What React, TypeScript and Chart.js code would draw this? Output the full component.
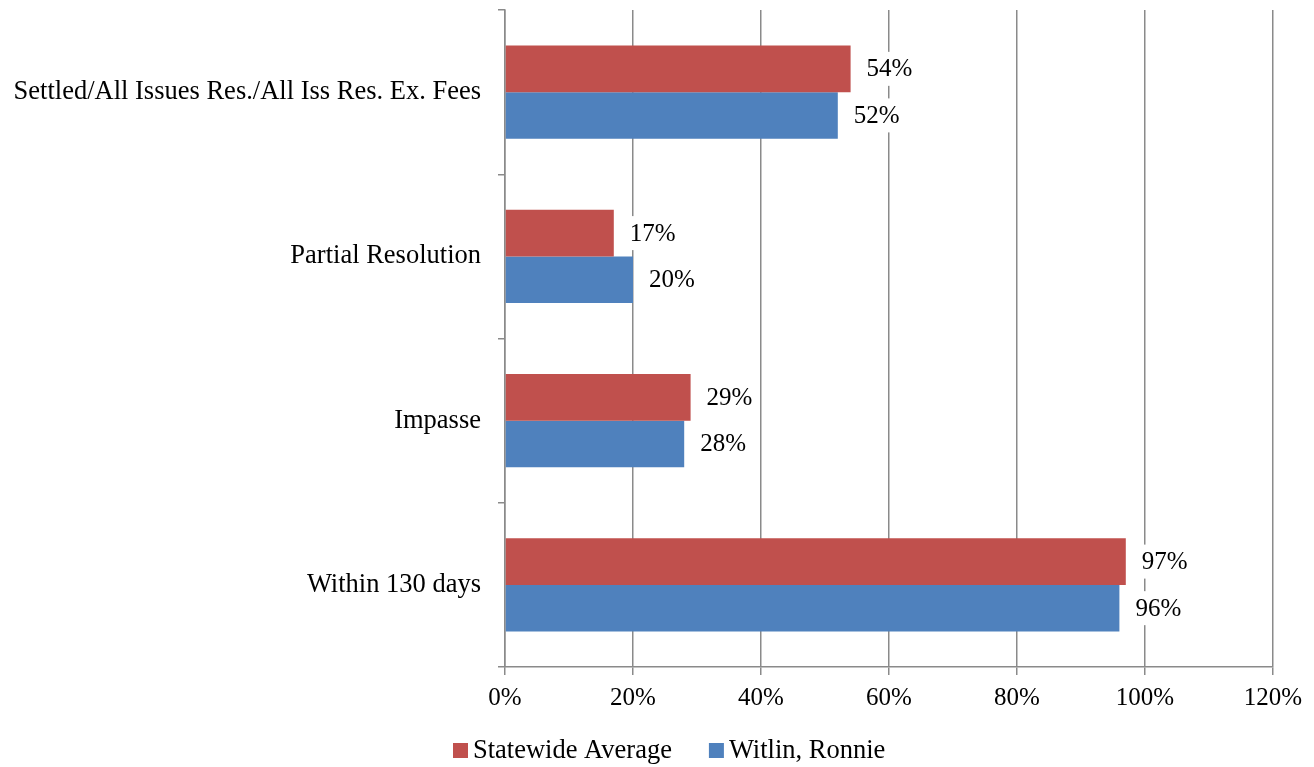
import React, { useEffect, useRef } from "react";
import { Chart, registerables } from "chart.js";

Chart.register(...registerables);

const categories = [
  "Settled/All Issues Res./All Iss Res. Ex. Fees",
  "Partial Resolution",
  "Impasse",
  "Within 130 days",
];
const statewideAverage = [54, 17, 29, 97];
const witlinRonnie = [52, 20, 28, 96];
const seriesNames = ["Statewide Average", "Witlin, Ronnie"];
const seriesColors = ["#C0504D", "#4F81BD"];
const xTickMax = 120;

const FONT = "'Liberation Serif', 'Times New Roman', serif";
const TEXT_SIZE = 26.5;
const NUM_SIZE = 25;

// Draws "NN%" to the right of each bar on a white box that hides the gridlines.
const valueLabels = {
  id: "valueLabels",
  afterDatasetsDraw(chart: any) {
    const ctx = chart.ctx;
    ctx.save();
    ctx.font = `${NUM_SIZE}px ${FONT}`;
    ctx.textBaseline = "middle";
    ctx.textAlign = "left";
    chart.data.datasets.forEach((ds: any, di: number) => {
      const meta = chart.getDatasetMeta(di);
      meta.data.forEach((bar: any, i: number) => {
        const text = `${ds.data[i]}%`;
        const w = ctx.measureText(text).width;
        const x = bar.x + 16;
        const y = bar.y;
        ctx.fillStyle = "#ffffff";
        ctx.fillRect(x - 4, y - 17, w + 8, 34);
        ctx.fillStyle = "#000000";
        ctx.fillText(text, x, y + 1);
      });
    });
    ctx.restore();
  },
};

// Legend row under the axis: square swatch, then the series name.
const bottomLegend = {
  id: "bottomLegend",
  afterDraw(chart: any) {
    const ctx = chart.ctx;
    ctx.save();
    ctx.font = `${TEXT_SIZE}px ${FONT}`;
    ctx.textBaseline = "middle";
    ctx.textAlign = "left";
    const y = 751;
    let x = 453;
    seriesNames.forEach((name, i) => {
      ctx.fillStyle = seriesColors[i];
      ctx.fillRect(x, y - 8, 15, 15);
      x += 20;
      ctx.fillStyle = "#000";
      ctx.fillText(name, x, y);
      x += ctx.measureText(name).width + 37;
    });
    ctx.restore();
  },
};

export default function App() {
  const ref = useRef<HTMLCanvasElement | null>(null);

  useEffect(() => {
    document.body.style.margin = "0";
    const canvas = ref.current;
    if (!canvas) return;
    const chart = new Chart(canvas, {
      type: "bar",
      data: {
        labels: categories,
        datasets: seriesNames.map((name, i) => ({
          label: name,
          data: i === 0 ? statewideAverage : witlinRonnie,
          backgroundColor: seriesColors[i],
          categoryPercentage: 0.567,
          barPercentage: 1,
        })),
      },
      options: {
        indexAxis: "y",
        animation: false,
        responsive: false,
        layout: { padding: { top: 10, right: 41, left: 0, bottom: 45 } },
        scales: {
          x: {
            min: 0,
            max: xTickMax,
            ticks: {
              stepSize: 20,
              callback: (v: any) => `${v}%`,
              color: "#000",
              font: { family: FONT, size: NUM_SIZE },
              padding: 8,
            },
            grid: {
              color: "#8a8a8a",
              lineWidth: 1.5,
              tickLength: 8,
            },
            border: { color: "#8a8a8a", width: 1.5 },
            afterFit: (scale: any) => {
              scale.height = 55;
            },
          },
          y: {
            grid: {
              offset: true,
              drawOnChartArea: false,
              color: "#8a8a8a",
              lineWidth: 1.5,
              tickLength: 7,
            },
            border: { color: "#8a8a8a", width: 1.5 },
            ticks: {
              color: "#000",
              font: { family: FONT, size: TEXT_SIZE },
              padding: 17,
            },
            afterFit: (scale: any) => {
              scale.width = 505;
              scale.paddingTop = 0;
              scale.paddingBottom = 0;
            },
          },
        },
        plugins: {
          legend: { display: false },
          tooltip: { enabled: false },
        },
      },
      plugins: [valueLabels, bottomLegend],
    });
    return () => chart.destroy();
  }, []);

  return <canvas ref={ref} width={1314} height={767} style={{ display: "block" }} />;
}
